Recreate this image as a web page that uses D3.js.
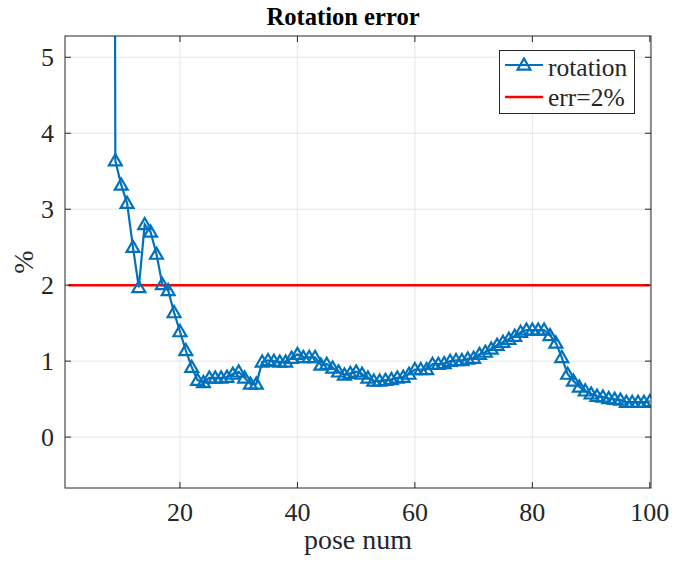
<!DOCTYPE html>
<html><head><meta charset="utf-8">
<script src="https://cdn.jsdelivr.net/npm/d3@7"></script>
<style>body{margin:0;background:#fff}svg{display:block}text{font-family:"Liberation Serif","Times New Roman",serif;fill:#262626}</style>
</head><body>
<script>
const poseStart = 8;
const rotation = [40,
 3.64,3.32,3.08,2.50,1.97,2.80,2.70,2.41,2.01,1.93,1.64,1.39,1.14,0.92,0.75,0.72,
 0.78,0.78,0.78,0.79,0.83,0.86,0.78,0.70,0.70,0.99,1.01,1.00,0.99,0.99,1.04,1.09,
 1.05,1.05,1.05,0.95,0.96,0.91,0.86,0.82,0.84,0.86,0.83,0.78,0.74,0.74,0.75,0.76,
 0.78,0.79,0.83,0.89,0.89,0.89,0.96,0.96,0.97,1.00,1.01,1.01,1.03,1.04,1.09,1.12,
 1.16,1.21,1.25,1.29,1.33,1.38,1.41,1.41,1.41,1.41,1.34,1.24,1.05,0.83,0.74,0.66,
 0.61,0.57,0.54,0.53,0.51,0.50,0.49,0.46,0.46,0.46,0.46,0.47];
const errThreshold = 2;
const errRange = [1, 100];
const xTicks = [20,40,60,80,100];
const yTicks = [0,1,2,3,4,5];
const seriesNames = ["rotation","err=2%"];

const W=684,H=562;
const L=65,R=651,T=36,B=488;
const svg=d3.select("body").append("svg").attr("width",W).attr("height",H);
const x=d3.scaleLinear().domain([0.43,100.2]).range([L,R]);
const y=d3.scaleLinear().domain([-0.67,5.28]).range([B,T]);
const data=rotation.map((v,i)=>({x:poseStart+i,y:v}));

// grid
const g=svg.append("g");
g.selectAll(".gx").data(xTicks).enter().append("line").attr("x1",d=>x(d)).attr("x2",d=>x(d)).attr("y1",T).attr("y2",B).attr("stroke","#e5e5e5").attr("stroke-width",1);
g.selectAll(".gy").data(yTicks).enter().append("line").attr("y1",d=>y(d)).attr("y2",d=>y(d)).attr("x1",L).attr("x2",R).attr("stroke","#e5e5e5").attr("stroke-width",1);

// clip
svg.append("clipPath").attr("id","clip").append("rect").attr("x",L).attr("y",T).attr("width",R-L).attr("height",B-T);
const plot=svg.append("g").attr("clip-path","url(#clip)");

plot.append("line").attr("x1",x(errRange[0])).attr("x2",x(errRange[1])).attr("y1",y(errThreshold)).attr("y2",y(errThreshold)).attr("stroke","#ff0000").attr("stroke-width",2.5);

const line=d3.line().x(d=>x(d.x)).y(d=>y(d.y));
plot.append("path").datum(data).attr("d",line).attr("fill","none").attr("stroke","#0072bd").attr("stroke-width",2.2);
const tri=d3.symbol().type(d3.symbolTriangle).size(72);
plot.selectAll(".m").data(data).enter().append("path").attr("d",tri).attr("transform",d=>`translate(${x(d.x)},${y(d.y)+1})`).attr("fill","none").attr("stroke","#0072bd").attr("stroke-width",2.2);

// axes box
const ax=svg.append("g");
ax.append("rect").attr("x",L).attr("y",T).attr("width",R-L).attr("height",B-T).attr("fill","none").attr("stroke","#262626").attr("stroke-width",1);
const tl=6;
xTicks.forEach(t=>{
  ax.append("line").attr("x1",x(t)).attr("x2",x(t)).attr("y1",B).attr("y2",B-tl).attr("stroke","#262626");
  ax.append("line").attr("x1",x(t)).attr("x2",x(t)).attr("y1",T).attr("y2",T+tl).attr("stroke","#262626");
});
yTicks.forEach(t=>{
  ax.append("line").attr("y1",y(t)).attr("y2",y(t)).attr("x1",L).attr("x2",L+tl).attr("stroke","#262626");
  ax.append("line").attr("y1",y(t)).attr("y2",y(t)).attr("x1",R).attr("x2",R-tl).attr("stroke","#262626");
});
ax.selectAll(".xt").data(xTicks).enter().append("text").attr("x",d=>x(d)).attr("y",B+33).attr("text-anchor","middle").attr("font-size",26).text(d=>d);
ax.selectAll(".yt").data(yTicks).enter().append("text").attr("x",L-11).attr("y",d=>y(d)+9).attr("text-anchor","end").attr("font-size",26).text(d=>d);

svg.append("text").attr("x",(L+R)/2).attr("y",549).attr("text-anchor","middle").attr("font-size",28).text("pose num");
svg.append("text").attr("transform",`translate(33,${(T+B)/2}) rotate(-90)`).attr("text-anchor","middle").attr("font-size",28).text("%");
svg.append("text").attr("x",343).attr("y",25).attr("text-anchor","middle").attr("font-size",24.6).attr("font-weight","bold").style("fill","#000").text("Rotation error");

// legend
const lg=svg.append("g");
lg.append("rect").attr("x",499.5).attr("y",50.5).attr("width",135).attr("height",63).attr("fill","#fff").attr("stroke","#262626").attr("stroke-width",1);
lg.append("line").attr("x1",505).attr("x2",543).attr("y1",65).attr("y2",65).attr("stroke","#0072bd").attr("stroke-width",2.2);
lg.append("path").attr("d",tri).attr("transform","translate(524,66)").attr("fill","none").attr("stroke","#0072bd").attr("stroke-width",2.2);
lg.append("line").attr("x1",505).attr("x2",543).attr("y1",97).attr("y2",97).attr("stroke","#ff0000").attr("stroke-width",2.5);
lg.selectAll(".lt").data(seriesNames).enter().append("text").attr("x",548).attr("y",(d,i)=>76+i*30).attr("font-size",25.5).text(d=>d);
</script>
</body></html>
